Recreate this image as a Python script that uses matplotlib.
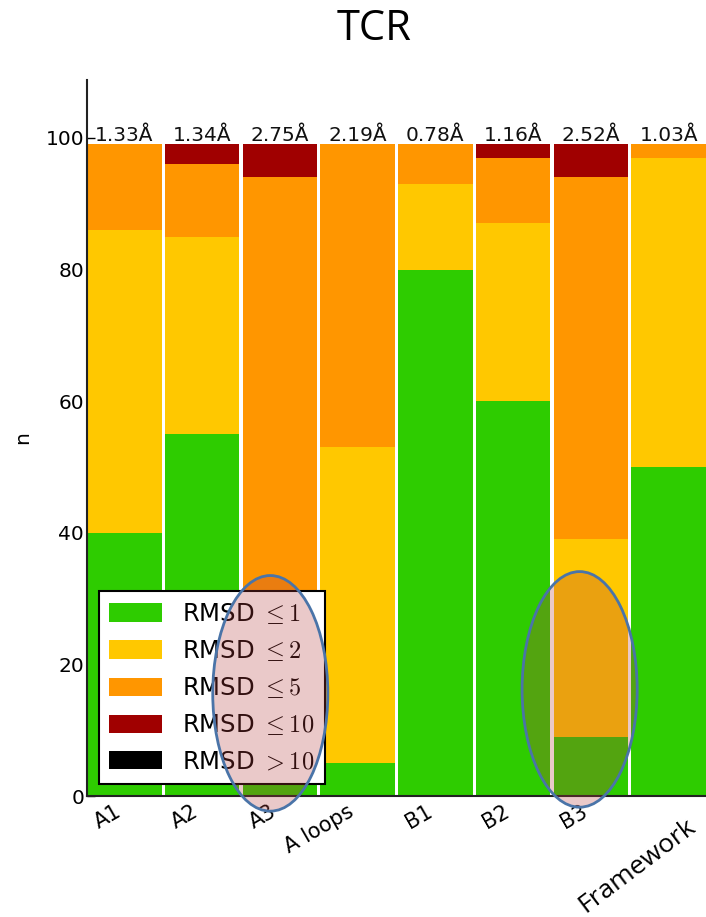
import matplotlib
matplotlib.use("Agg")
import matplotlib.pyplot as plt
from matplotlib.patches import Ellipse
import numpy as np

plt.rcParams['font.family'] = ['DejaVu Sans']
plt.rcParams['mathtext.fontset'] = 'cm'

# ---- data ----
categories = ['A1', 'A2', 'A3', 'A loops', 'B1', 'B2', 'B3', 'Framework']
rmsd_le1 = [40, 55, 2, 5, 80, 60, 9, 50]
rmsd_le2 = [46, 30, 10, 48, 13, 27, 30, 47]
rmsd_le5 = [13, 11, 82, 46, 6, 10, 55, 2]
rmsd_le10 = [0, 3, 5, 0, 0, 2, 5, 0]
rmsd_gt10 = [0, 0, 0, 0, 0, 0, 0, 0]
mean_rmsd = [1.33, 1.34, 2.75, 2.19, 0.78, 1.16, 2.52, 1.03]

series = [rmsd_le1, rmsd_le2, rmsd_le5, rmsd_le10, rmsd_gt10]
labels = [r'RMSD $\leq 1$', r'RMSD $\leq 2$', r'RMSD $\leq 5$',
          r'RMSD $\leq 10$', r'RMSD $> 10$']
colors = ['#2ecc00', '#ffc800', '#ff9600', '#a00000', '#000000']

W, H = 706, 917
fig = plt.figure(figsize=(W / 100, H / 100), dpi=100)
ax = fig.add_axes([87 / W, 1 - 796 / H, (706 - 87) / W, (796 - 80) / H])

x = np.arange(len(categories))
bottom = np.zeros(len(categories))
for vals, lab, col in zip(series, labels, colors):
    ax.bar(x, vals, width=0.96, bottom=bottom, color=col, linewidth=0,
           label=lab, zorder=2)
    bottom += np.array(vals)

for xi, tot, m in zip(x, bottom, mean_rmsd):
    ax.text(xi, tot + 0.5, f'{m:.2f}Å', ha='center', va='baseline',
            fontsize=14.5, color='#111111', zorder=3)

ax.set_xlim(-0.48, 7.48)
ax.set_ylim(0, 108.8)
ax.set_yticks([0, 20, 40, 60, 80, 100])
ax.tick_params(axis='y', labelsize=14.5, direction='in', length=6, width=1,
               right=False, pad=2)
ax.set_xticks(x)
ax.set_xticklabels(categories[:7] + [''], rotation=30, ha='right',
                   fontsize=15)
ax.tick_params(axis='x', direction='in', length=6, width=1, top=False, pad=4)
ax.set_ylabel('n', fontsize=14.5, labelpad=10)
for s in ['top', 'right']:
    ax.spines[s].set_visible(False)
for s in ['left', 'bottom']:
    ax.spines[s].set_linewidth(1.5)
    ax.spines[s].set_color('#222222')

leg = ax.legend(loc='lower left', fontsize=17.5, frameon=True, fancybox=False,
                edgecolor='black', framealpha=1, handlelength=2.15,
                handleheight=0.8, handletextpad=0.85, labelspacing=0.5,
                borderpad=0.42, borderaxespad=0.5)
leg.get_frame().set_linewidth(1.5)
leg.set_zorder(5)

# last category label, rotated separately
fig.text(637 / W, 1 - 866 / H, categories[7], rotation=37, ha='center',
         va='center', fontsize=19, family='Open Sans')

# highlight ellipses
for cx, cy in [(1.877, 15.6), (5.855, 16.2)]:
    e = Ellipse((cx, cy), width=1.48, height=35.8,
                facecolor=(0.71, 0.24, 0.24, 0.28),
                edgecolor='#4a74a8', linewidth=2.0, zorder=10, clip_on=False)
    ax.add_patch(e)

fig.text(374 / W, 1 - 29 / H, 'TCR', ha='center', va='center', fontsize=30,
         family='Open Sans')

fig.savefig('out.png', dpi=100, facecolor='white')
